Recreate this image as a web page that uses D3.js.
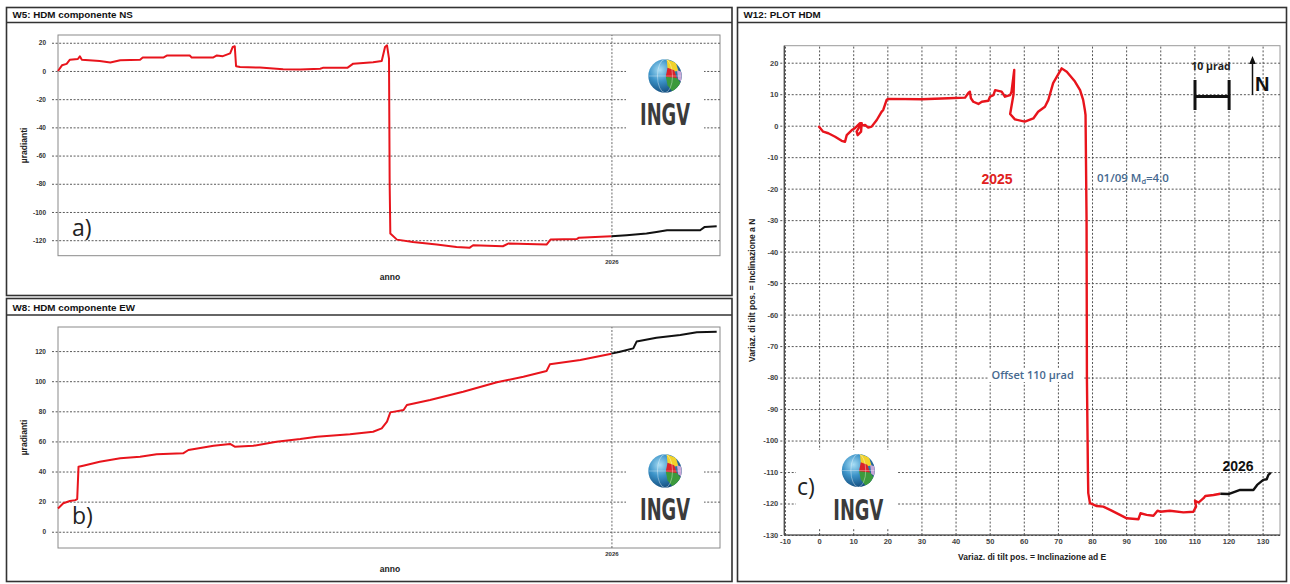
<!DOCTYPE html>
<html><head><meta charset="utf-8">
<script src="https://cdn.jsdelivr.net/npm/d3@7"></script>
<style>
html,body{margin:0;padding:0;background:#fff;}
svg{display:block;}
</style></head><body>
<svg id="chart" width="1290" height="584"></svg>
<script>
// ---------------- DATA ----------------
// time axis (decimal years) for panels a) and b)
const timeDomain = [2025.164, 2026.164];
const yearTicks = [2026];

// a) NS component (µradianti)
const nsRedYears = [2025.164,2025.170,2025.177,2025.182,2025.194,2025.197,2025.200,2025.227,2025.243,2025.258,2025.288,2025.292,2025.323,2025.329,2025.363,2025.366,2025.398,2025.404,2025.413,2025.424,2025.428,2025.431,2025.433,2025.439,2025.469,2025.504,2025.530,2025.560,2025.564,2025.601,2025.610,2025.640,2025.653,2025.658,2025.661,2025.664,2025.665,2025.666,2025.676,2025.700,2025.736,2025.766,2025.786,2025.791,2025.836,2025.844,2025.902,2025.908,2025.948,2025.951,2026.000];
const nsRedValues = [0,4,5,8,8.5,10.4,8,7,6,7.6,8,9.5,9.5,11,11,9.5,9.5,11,10.5,12.5,17,17.5,3.3,2.8,2.4,1.2,1,1.6,2.2,2.2,5.2,6.2,7,17,18.2,8.7,-80,-115.3,-119.6,-121.3,-123.1,-124.8,-125.3,-123.6,-124.3,-122.4,-123.1,-119.6,-119.1,-118.2,-117.2];
const nsBlackYears = [2026.000,2026.023,2026.053,2026.068,2026.084,2026.134,2026.141,2026.159];
const nsBlackValues = [-117.2,-116.5,-115.3,-114.2,-113,-113,-110.6,-110.1];
const nsTicks = [20,0,-20,-40,-60,-80,-100,-120];

// b) EW component (µradianti)
const ewRedYears = [2025.164,2025.172,2025.182,2025.190,2025.193,2025.195,2025.202,2025.227,2025.258,2025.288,2025.313,2025.353,2025.361,2025.399,2025.424,2025.431,2025.459,2025.494,2025.530,2025.555,2025.605,2025.640,2025.653,2025.661,2025.666,2025.686,2025.691,2025.726,2025.776,2025.827,2025.867,2025.902,2025.907,2025.953,2026.000];
const ewRedValues = [15.5,18.9,20.4,21,21.7,43.2,43.9,46.5,48.8,49.8,51.4,52.1,54.3,57.1,58.3,56.5,57.1,59.8,61.6,63.1,64.7,66.4,68.7,73.1,79.3,80.9,84.2,87.5,93,99.3,103,106.8,111.2,114.1,118.3];
const ewBlackYears = [2026.000,2026.013,2026.033,2026.038,2026.068,2026.104,2026.129,2026.159];
const ewBlackValues = [118.3,119.6,121.8,126.3,128.9,130.7,132.5,132.9];
const ewTicks = [0,20,40,60,80,100,120];

// c) tilt plot (E, N)
const hdmRedE = [-0.2,1.2,2.7,4.7,6.6,7.6,8.1,9.6,10.5,12,12.5,12.3,11.3,11,12,13.5,14.4,15.4,16.9,18.3,18.8,19.8,20.3,30.1,37.9,42.8,43.7,44.2,44.5,45.2,46.7,47.7,49.6,50.1,51.1,51.6,53.5,54.5,56,56.4,57.2,57.0,56,57.4,60.3,62.8,64.2,66.2,67.2,68.6,71.1,72.6,75,76.5,77.4,77.9,78.1,78.4,78.5,78.8,78.9,79.4,81.4,83.3,85.3,88.2,90.2,93.6,94.2,96,98,99.2,100,102.8,106.8,109.7,110.5,110.2,111.2,112.7,113.2,115.6,117.6];
const hdmRedN = [-0.1,-1.9,-2.4,-3.5,-4.8,-5.1,-3,-1.4,-0.8,0.8,0.8,-1.9,-3,-1.9,-0.1,0.2,-0.6,-0.3,1.8,4.4,5,8.2,8.5,8.4,8.7,8.9,10.3,10.8,8.7,7.6,6.9,7.6,7.9,9.2,9.7,11.3,10.8,9.2,9.7,10.8,17.7,10,3.7,2,1.3,2.3,4.4,6,8.2,13.5,18.2,17.1,14,11.3,8.2,5,3.4,-30,-80,-110,-116.7,-119.9,-120.8,-121,-122,-123.6,-124.7,-125,-123.1,-123.6,-123.9,-122.3,-122.6,-122.3,-122.8,-122.6,-121,-119.1,-119.7,-118.3,-117.6,-117.3,-116.9];
const hdmBlackE = [117.6,120,123.4,127.3,128.4,130.2,131.2,131.7,132.4];
const hdmBlackN = [-116.9,-117,-115.7,-115.7,-114.1,-112.5,-112.3,-110.9,-110.2];
const hdmXTicks = [-10,0,10,20,30,40,50,60,70,80,90,100,110,120,130];
const hdmYTicks = [20,10,0,-10,-20,-30,-40,-50,-60,-70,-80,-90,-100,-110,-120,-130];

// ---------------- DRAWING ----------------
const ARIAL = '"Liberation Sans", Arial, sans-serif';
const OPEN = '"Open Sans", "Noto Sans", sans-serif';
const RED = "#e8141c";
const plain = d => String(d);   // hyphen-minus, as in the original
const svg = d3.select("#chart");
svg.append("rect").attr("width",1290).attr("height",584).attr("fill","#fff");

// globe gradient
const defs = svg.append("defs");
const rg = defs.append("radialGradient").attr("id","globeGrad").attr("cx","35%").attr("cy","32%").attr("r","75%");
rg.append("stop").attr("offset","0%").attr("stop-color","#a8def5");
rg.append("stop").attr("offset","45%").attr("stop-color","#3c93c8");
rg.append("stop").attr("offset","100%").attr("stop-color","#0f4677");

let clipId = 0;
function drawLogo(cx, cy, r, textY, fs) {
  const g = svg.append("g");
  const id = "gclip" + (clipId++);
  defs.append("clipPath").attr("id", id).append("circle").attr("cx",cx).attr("cy",cy).attr("r",r);
  g.append("circle").attr("cx",cx).attr("cy",cy).attr("r",r).attr("fill","url(#globeGrad)");
  const pg = g.append("g").attr("clip-path",`url(#${id})`);
  const P = pts => pts.map(p => [cx + p[0]*r, cy + p[1]*r].join(",")).join(" ");
  pg.append("polygon").attr("points",P([[0.1,-1],[0.65,-0.8],[0.8,-0.3],[0.4,-0.25],[0.15,-0.5]])).attr("fill","#f2d22a");
  pg.append("polygon").attr("points",P([[0.15,-0.5],[0.55,-0.35],[0.72,0.15],[0.3,0.3],[0.05,0.02]])).attr("fill","#d9232a");
  pg.append("polygon").attr("points",P([[0.05,0.05],[0.72,0.12],[1,0.5],[0.5,1],[0.15,0.55]])).attr("fill","#3c9a3c");
  pg.append("polygon").attr("points",P([[0.72,-0.35],[1,-0.25],[1,0.35],[0.78,0.2]])).attr("fill","#c9a6d8");
  pg.append("ellipse").attr("cx",cx).attr("cy",cy).attr("rx",r*0.45).attr("ry",r).attr("fill","none").attr("stroke","#fff").attr("stroke-opacity",0.55).attr("stroke-width",0.7);
  pg.append("line").attr("x1",cx-r).attr("x2",cx+r).attr("y1",cy).attr("y2",cy).attr("stroke","#fff").attr("stroke-opacity",0.45).attr("stroke-width",0.7);
  g.append("text").attr("x",cx).attr("y",textY).attr("text-anchor","middle")
    .attr("font-family",'"Liberation Sans Narrow","DejaVu Sans Condensed","Liberation Sans",sans-serif')
    .attr("font-weight","bold").attr("font-size",fs).attr("fill","#3b3b3b")
    .attr("textLength",50).attr("lengthAdjust","spacingAndGlyphs").text("INGV");
}

function frame(x, y, w, h, sepY, title) {
  svg.append("rect").attr("x",x).attr("y",y).attr("width",w).attr("height",h).attr("fill","none").attr("stroke","#333").attr("stroke-width",1.6);
  svg.append("line").attr("x1",x).attr("x2",x+w).attr("y1",sepY).attr("y2",sepY).attr("stroke","#333").attr("stroke-width",1.6);
  svg.append("text").attr("x",x+6).attr("y",sepY-4.5).attr("font-family",ARIAL).attr("font-weight","bold").attr("font-size",9.8).attr("fill","#111").text(title);
}

frame(6.5, 7.5, 725.5, 288, 22.5, "W5: HDM componente NS");
frame(6.5, 298.5, 725.5, 283, 315, "W8: HDM componente EW");
frame(737.5, 7.5, 549, 574, 22.5, "W12: PLOT HDM");

function drawTS(cfg) {
  const x = d3.scaleLinear().domain(timeDomain).range([cfg.left, cfg.right]);
  const y = d3.scaleLinear().domain(cfg.yDomain).range([cfg.bottom, cfg.top]);
  const g = svg.append("g");
  g.append("rect").attr("x",cfg.left).attr("y",cfg.top).attr("width",cfg.right-cfg.left).attr("height",cfg.bottom-cfg.top)
    .attr("fill","#fff").attr("stroke","#8a8a8a").attr("stroke-width",1);
  const ya = g.append("g").attr("transform",`translate(${cfg.left-6},0)`)
    .call(d3.axisLeft(y).tickValues(cfg.ticks).tickFormat(plain).tickSize(-(cfg.right-cfg.left+6)).tickPadding(6).tickSizeOuter(0));
  ya.select(".domain").remove();
  ya.selectAll(".tick line").attr("stroke","#5a5a5a").attr("stroke-dasharray","2,1.6");
  ya.selectAll(".tick text").attr("font-family",ARIAL).attr("font-size",6.5).attr("font-weight","bold").attr("fill","#333");
  const xa = g.append("g").attr("transform",`translate(0,${cfg.bottom})`)
    .call(d3.axisBottom(x).tickValues(yearTicks).tickFormat(plain).tickSize(-(cfg.bottom-cfg.top)).tickPadding(4).tickSizeOuter(0));
  xa.select(".domain").remove();
  xa.selectAll(".tick line").attr("stroke","#6a6a6a").attr("stroke-dasharray","2,1.6");
  xa.selectAll(".tick text").attr("font-family",ARIAL).attr("font-size",6).attr("font-weight","bold").attr("fill","#333");
  // logo box
  g.append("rect").attr("x",626).attr("y",cfg.logoBox[0]).attr("width",78).attr("height",cfg.logoBox[1]-cfg.logoBox[0]).attr("fill","#fff");
  drawLogo(665, cfg.globeY, 16.7, cfg.ingvY, cfg.ingvFs);
  const line = d3.line().x(d => x(d[0])).y(d => y(d[1]));
  g.append("path").datum(d3.zip(cfg.redX, cfg.redY)).attr("d",line).attr("fill","none").attr("stroke",RED).attr("stroke-width",2).attr("stroke-linejoin","round");
  g.append("path").datum(d3.zip(cfg.blackX, cfg.blackY)).attr("d",line).attr("fill","none").attr("stroke","#111").attr("stroke-width",2).attr("stroke-linejoin","round");
  // labels
  g.append("text").attr("transform",`translate(27,${(cfg.top+cfg.bottom)/2}) rotate(-90)`).attr("text-anchor","middle")
    .attr("font-family",ARIAL).attr("font-weight","bold").attr("font-size",8.5).attr("fill","#222").text("µradianti");
  g.append("text").attr("x",390).attr("y",cfg.annoY).attr("text-anchor","middle")
    .attr("font-family",ARIAL).attr("font-weight","bold").attr("font-size",8.5).attr("fill","#222").text("anno");
  g.append("text").attr("x",72).attr("y",cfg.letterY).attr("font-family",OPEN).attr("font-size",23).attr("fill","#222").text(cfg.letter);
}

drawTS({left:58, right:720, top:35, bottom:255.7, yDomain:[-131,25.5], ticks:nsTicks,
  redX:nsRedYears, redY:nsRedValues, blackX:nsBlackYears, blackY:nsBlackValues,
  logoBox:[52,133], globeY:76, ingvY:125, ingvFs:31, annoY:280, letter:"a)", letterY:236});
drawTS({left:58, right:720, top:327, bottom:548, yDomain:[-10.8,136], ticks:ewTicks,
  redX:ewRedYears, redY:ewRedValues, blackX:ewBlackYears, blackY:ewBlackValues,
  logoBox:[450,525], globeY:471, ingvY:520, ingvFs:30, annoY:572, letter:"b)", letterY:524});

// ---------- panel c ----------
(function(){
  const L = 784.3, R = 1280, T = 45.7, B = 535;
  const x = d3.scaleLinear().domain([-10.2,135.1]).range([L,R]);
  const y = d3.scaleLinear().domain([-130,25.4]).range([B,T]);
  const g = svg.append("g");
  g.append("rect").attr("x",L).attr("y",T).attr("width",R-L).attr("height",B-T).attr("fill","#fff").attr("stroke","#9a9a9a");
  const xa = g.append("g").attr("transform",`translate(0,${B})`)
    .call(d3.axisBottom(x).tickValues(hdmXTicks).tickFormat(plain).tickSize(-(B-T)).tickPadding(4).tickSizeOuter(0));
  xa.select(".domain").remove();
  xa.selectAll(".tick line").attr("stroke","#555").attr("stroke-dasharray","2,1.8").attr("stroke-width",1);
  xa.selectAll(".tick text").attr("font-family",ARIAL).attr("font-size",7.5).attr("font-weight","bold").attr("fill","#444");
  const ya = g.append("g").attr("transform",`translate(${L-4},0)`)
    .call(d3.axisLeft(y).tickValues(hdmYTicks).tickFormat(plain).tickSize(-(R-L+4)).tickPadding(2).tickSizeOuter(0));
  ya.select(".domain").remove();
  ya.selectAll(".tick line").attr("stroke","#555").attr("stroke-dasharray","2,1.8").attr("stroke-width",1);
  ya.selectAll(".tick text").attr("font-family",ARIAL).attr("font-size",7.5).attr("font-weight","bold").attr("fill","#444");
  // axes lines
  g.append("line").attr("x1",L).attr("x2",L).attr("y1",T).attr("y2",B).attr("stroke","#444").attr("stroke-width",1.2);
  g.append("line").attr("x1",L).attr("x2",R).attr("y1",B).attr("y2",B).attr("stroke","#444").attr("stroke-width",1.2);
  // logo
  g.append("rect").attr("x",796).attr("y",450).attr("width",101).attr("height",78).attr("fill","#fff");
  drawLogo(858.3, 470.5, 16.5, 520, 28);
  g.append("text").attr("x",797).attr("y",495).attr("font-family",OPEN).attr("font-size",23).attr("fill","#222").text("c)");
  // annotation backgrounds
  g.append("rect").attr("x",989).attr("y",368).attr("width",94).attr("height",14).attr("fill","#fff");
  // lines
  const line = d3.line().x(d => x(d[0])).y(d => y(d[1]));
  g.append("path").datum(d3.zip(hdmRedE, hdmRedN)).attr("d",line).attr("fill","none").attr("stroke",RED).attr("stroke-width",2.4).attr("stroke-linejoin","round");
  g.append("path").datum(d3.zip(hdmBlackE, hdmBlackN)).attr("d",line).attr("fill","none").attr("stroke","#111").attr("stroke-width",2.4).attr("stroke-linejoin","round");
  // annotations
  g.append("text").attr("x",981.5).attr("y",183.5).attr("font-family",ARIAL).attr("font-weight","bold").attr("font-size",14).attr("fill","#e02020").text("2025");
  g.append("text").attr("x",1222.5).attr("y",471).attr("font-family",ARIAL).attr("font-weight","bold").attr("font-size",14).attr("fill","#111").text("2026");
  const t1 = g.append("text").attr("x",1097).attr("y",181.5).attr("font-family",OPEN).attr("font-weight",600).attr("font-size",11.5).attr("fill","#46698f");
  t1.append("tspan").text("01/09 M");
  t1.append("tspan").attr("font-size",7.5).attr("dy",2.5).text("d");
  t1.append("tspan").attr("dy",-2.5).text("=4.0");
  g.append("text").attr("x",991.5).attr("y",378.5).attr("font-family",OPEN).attr("font-weight",600).attr("font-size",11).attr("fill","#46698f").text("Offset 110 µrad");
  // scale bar (10 µrad) using the x scale
  const sbX0 = 1195, sbW = x(10) - x(0);
  g.append("text").attr("x",sbX0 + sbW/2 - 1).attr("y",70).attr("text-anchor","middle").attr("font-family",OPEN).attr("font-weight","bold").attr("font-size",10.5).attr("fill","#222").text("10 µrad");
  g.append("line").attr("x1",sbX0).attr("x2",sbX0).attr("y1",80).attr("y2",110).attr("stroke","#111").attr("stroke-width",3);
  g.append("line").attr("x1",sbX0+sbW).attr("x2",sbX0+sbW).attr("y1",80).attr("y2",110).attr("stroke","#111").attr("stroke-width",3);
  g.append("line").attr("x1",sbX0).attr("x2",sbX0+sbW).attr("y1",96.5).attr("y2",96.5).attr("stroke","#111").attr("stroke-width",3);
  g.append("line").attr("x1",1252.5).attr("x2",1252.5).attr("y1",95).attr("y2",62).attr("stroke","#111").attr("stroke-width",1.5);
  g.append("polygon").attr("points","1252.5,56 1249.2,64 1255.8,64").attr("fill","#111");
  g.append("text").attr("x",1255).attr("y",90.5).attr("font-family",ARIAL).attr("font-weight","bold").attr("font-size",20).attr("fill","#111").text("N");
  // axis titles
  g.append("text").attr("x",(L+R)/2).attr("y",560).attr("text-anchor","middle").attr("font-family",ARIAL).attr("font-weight","bold").attr("font-size",8.5).attr("fill","#222").text("Variaz. di tilt pos. = Inclinazione ad E");
  g.append("text").attr("transform",`translate(755,${(T+B)/2}) rotate(-90)`).attr("text-anchor","middle").attr("font-family",ARIAL).attr("font-weight","bold").attr("font-size",8.5).attr("fill","#222").text("Variaz. di tilt pos. = Inclinazione a N");
})();
</script>
</body></html>
